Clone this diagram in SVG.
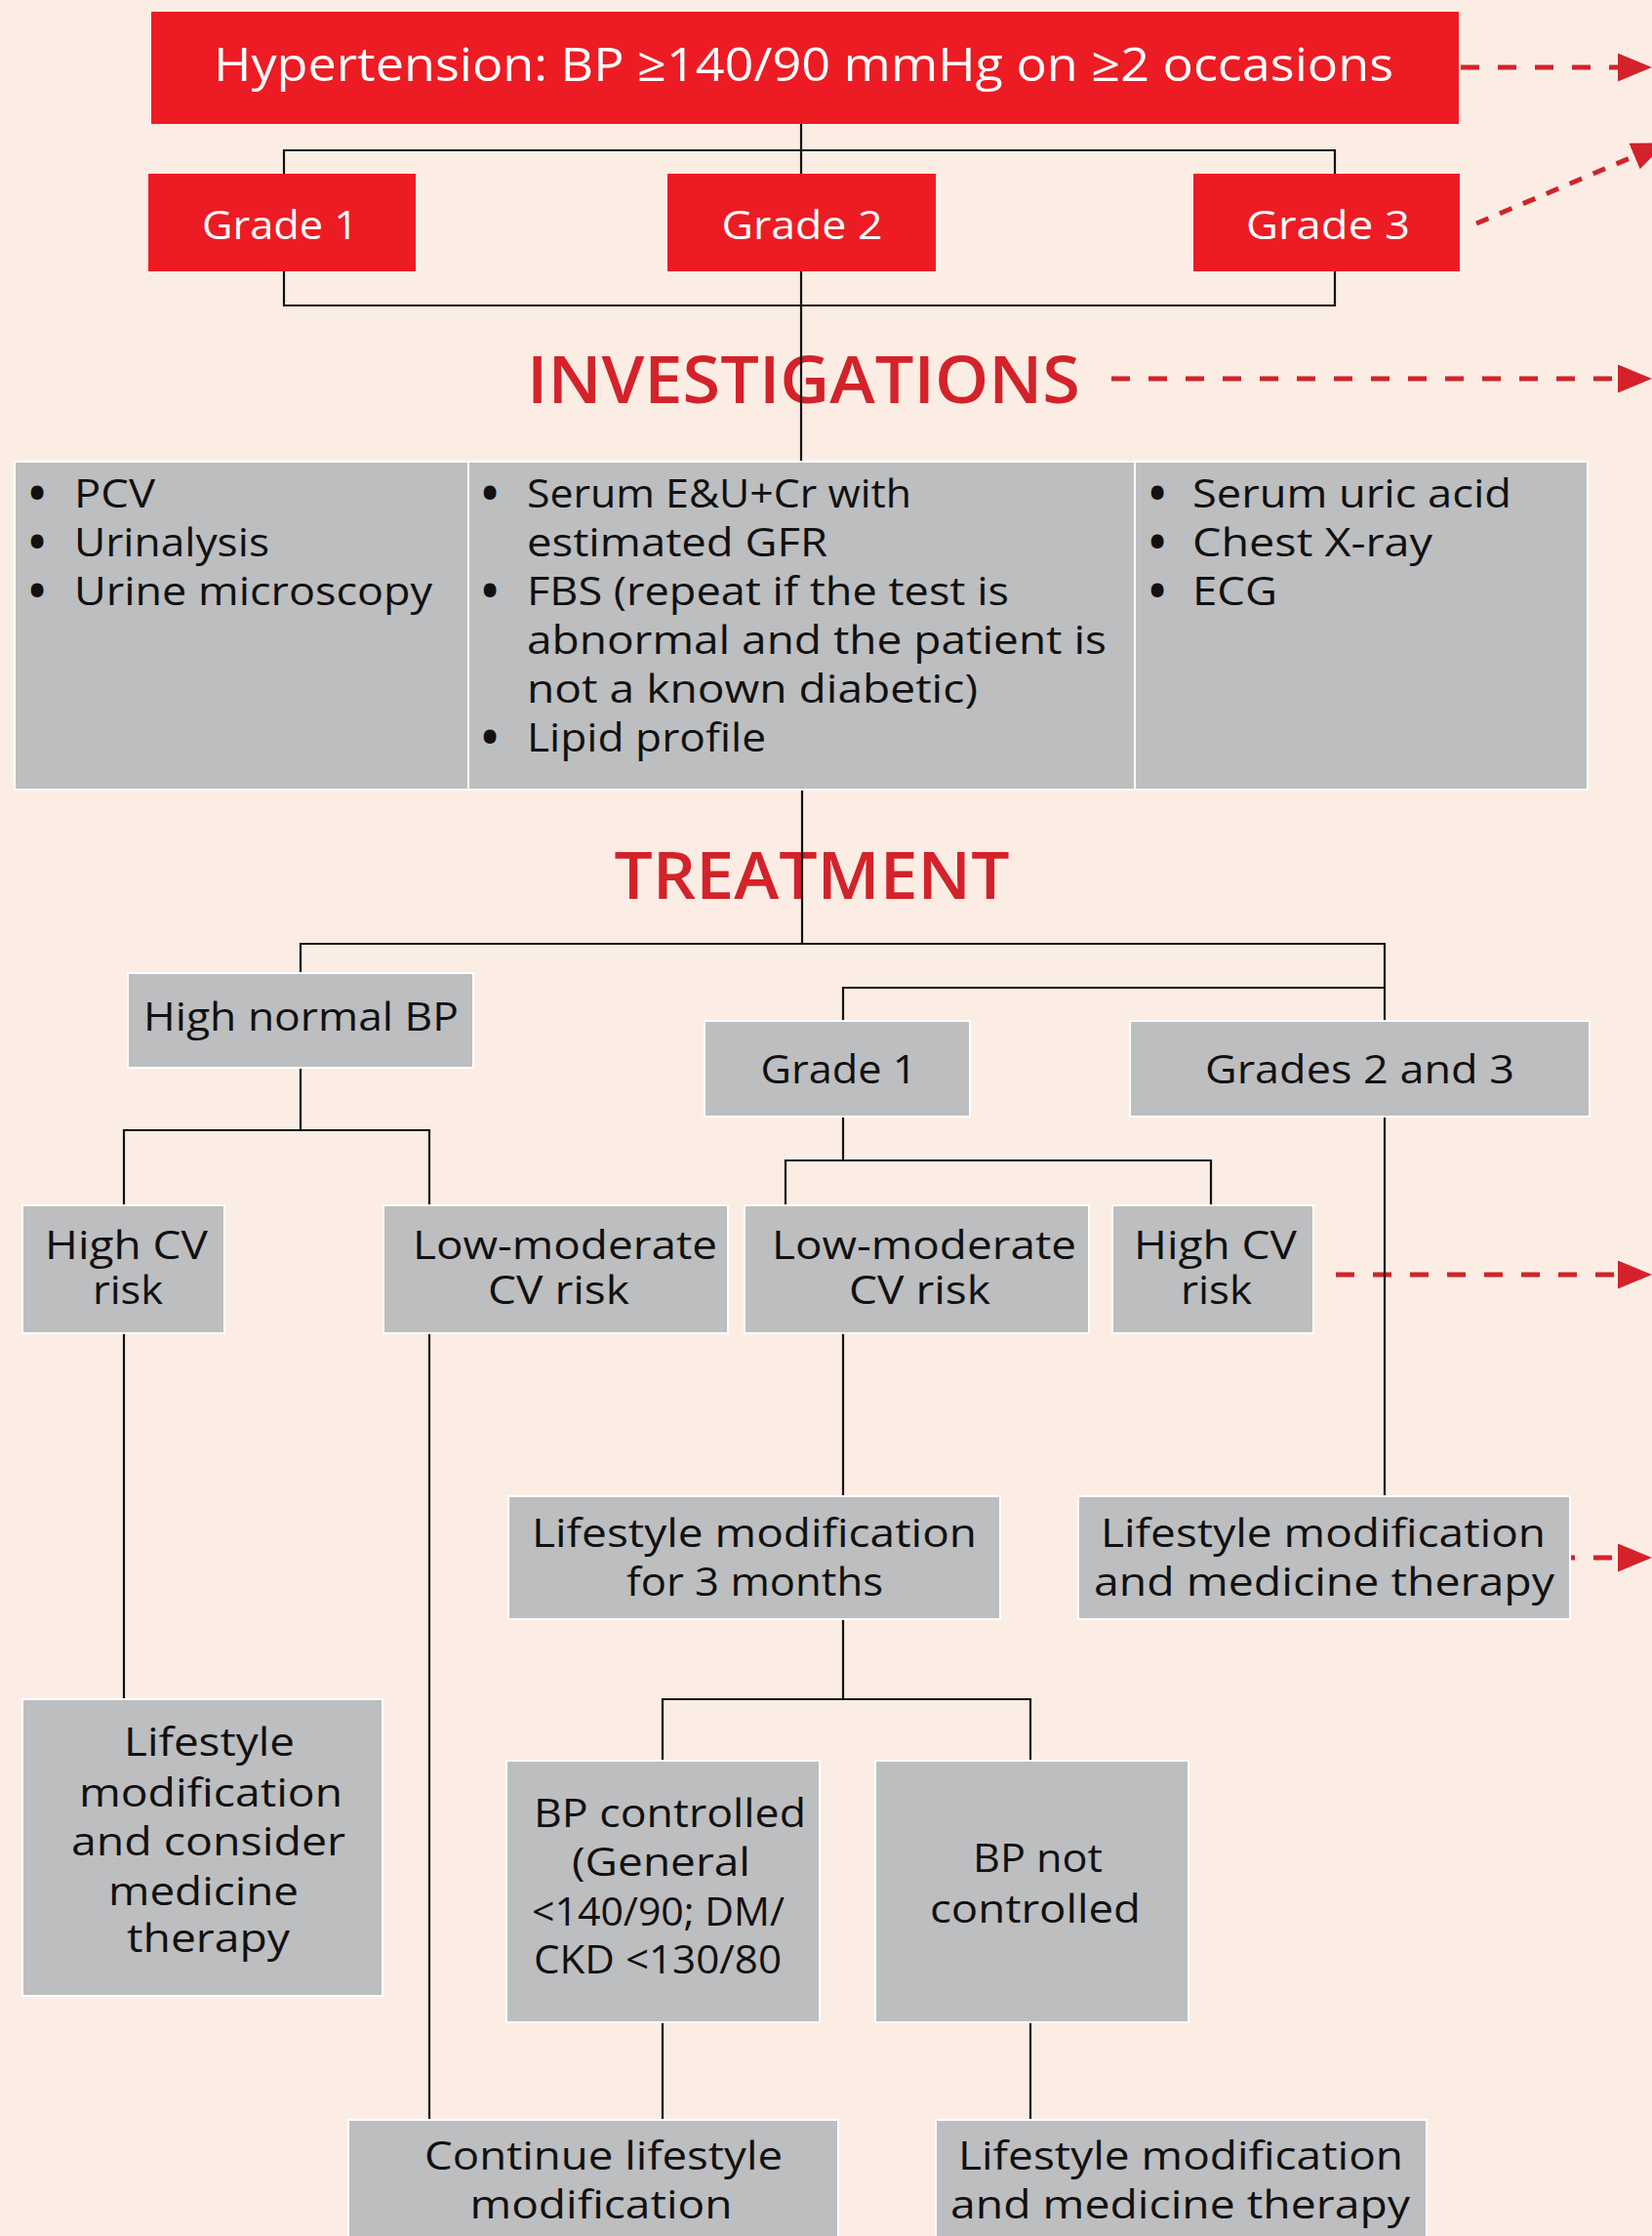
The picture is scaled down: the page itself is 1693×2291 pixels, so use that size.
<svg xmlns="http://www.w3.org/2000/svg" width="1693" height="2291" viewBox="0 0 1693 2291">
<style>
.t{font-family:"Open Sans","Liberation Sans",sans-serif;font-size:40px;fill:#111;text-anchor:middle}
.tl{text-anchor:start}
.b{font-family:"Open Sans","Liberation Sans",sans-serif;font-size:40px;font-weight:800;fill:#111;text-anchor:middle}
.w{fill:#fff;font-weight:500}
.h{font-family:"Open Sans","Liberation Sans",sans-serif;font-size:67px;font-weight:600;fill:#d3222a;text-anchor:middle}
.red{fill:#ed1c24}
.gray{fill:#bdbec0;stroke:#fff;stroke-width:2}
.conn{fill:none;stroke:#111;stroke-width:2.2}
.dash{fill:none;stroke:#d3222a;stroke-width:5;stroke-dasharray:19 19}
.dash2{fill:none;stroke:#d3222a;stroke-width:5;stroke-dasharray:13.5 12.5}
</style>
<defs>
<marker id="ah" markerUnits="userSpaceOnUse" markerWidth="36" markerHeight="30" refX="0" refY="14.5" orient="auto">
<path d="M0,0 L35,14.5 L0,29 Z" fill="#d3222a"/>
</marker>
</defs>
<rect x="0" y="0" width="1693" height="2291" fill="#fcede4"/>

<g id="headings">
<text class="h" x="823.5" y="413" textLength="567" lengthAdjust="spacingAndGlyphs">INVESTIGATIONS</text>
<text class="h" x="832" y="921" textLength="405" lengthAdjust="spacingAndGlyphs">TREATMENT</text>
</g>

<g id="arrows">
<line class="dash" x1="1497" y1="69" x2="1658" y2="69" marker-end="url(#ah)"/>
<line class="dash2" x1="1513" y1="229" x2="1675" y2="160" marker-end="url(#ah)"/>
<line class="dash" x1="1139" y1="388" x2="1658" y2="388" marker-end="url(#ah)"/>
<line class="dash" x1="1369" y1="1306" x2="1658" y2="1306" marker-end="url(#ah)"/>
<line class="dash" x1="1595" y1="1596" x2="1658" y2="1596" marker-end="url(#ah)"/>
</g>

<g id="connectors">
<path class="conn" d="M821,127 V473"/>
<path class="conn" d="M291,178 V154 H1368 V178"/>
<path class="conn" d="M291,278 V313 H1368 V278"/>
<path class="conn" d="M822,809 V967"/>
<path class="conn" d="M308,997 V967 H1419 V1046"/>
<path class="conn" d="M864,1046 V1012 H1419"/>
<path class="conn" d="M308,1094 V1158"/>
<path class="conn" d="M127,1235 V1158 H440 V1235"/>
<path class="conn" d="M864,1144 V1189"/>
<path class="conn" d="M805,1235 V1189 H1241 V1235"/>
<path class="conn" d="M1419,1144 V1533"/>
<path class="conn" d="M127,1366 V1741"/>
<path class="conn" d="M440,1366 V2172"/>
<path class="conn" d="M864,1366 V1533"/>
<path class="conn" d="M864,1659 V1741"/>
<path class="conn" d="M679,1804 V1741 H1056 V1804"/>
<path class="conn" d="M679,2072 V2172"/>
<path class="conn" d="M1056,2072 V2172"/>
</g>

<g id="hypertension">
<rect class="red" x="155" y="12" width="1340" height="115"/>
<text class="t w" x="823.5" y="83" style="font-size:48px" textLength="1209" lengthAdjust="spacingAndGlyphs">Hypertension: BP ≥140/90 mmHg on ≥2 occasions</text>
</g>
<g id="grade1-red">
<rect class="red" x="152" y="178" width="274" height="100"/>
<text class="t w" x="287" y="245" textLength="160" lengthAdjust="spacingAndGlyphs">Grade 1</text>
</g>
<g id="grade2-red">
<rect class="red" x="684" y="178" width="275" height="100"/>
<text class="t w" x="822" y="245" textLength="165" lengthAdjust="spacingAndGlyphs">Grade 2</text>
</g>
<g id="grade3-red">
<rect class="red" x="1223" y="178" width="273" height="100"/>
<text class="t w" x="1361" y="245" textLength="168" lengthAdjust="spacingAndGlyphs">Grade 3</text>
</g>

<g id="investigations-col1">
<rect class="gray" x="15" y="473" width="465" height="336"/>
<text class="b" x="38" y="520">•</text><text class="t tl" x="76" y="520" textLength="83" lengthAdjust="spacingAndGlyphs">PCV</text>
<text class="b" x="38" y="570">•</text><text class="t tl" x="76" y="570" textLength="200" lengthAdjust="spacingAndGlyphs">Urinalysis</text>
<text class="b" x="38" y="620">•</text><text class="t tl" x="76" y="620" textLength="367" lengthAdjust="spacingAndGlyphs">Urine microscopy</text>
</g>
<g id="investigations-col2">
<rect class="gray" x="480" y="473" width="683" height="336"/>
<text class="b" x="502" y="520">•</text><text class="t tl" x="540" y="520" textLength="394" lengthAdjust="spacingAndGlyphs">Serum E&amp;U+Cr with</text>
<text class="t tl" x="540" y="570" textLength="308" lengthAdjust="spacingAndGlyphs">estimated GFR</text>
<text class="b" x="502" y="620">•</text><text class="t tl" x="540" y="620" textLength="494" lengthAdjust="spacingAndGlyphs">FBS (repeat if the test is</text>
<text class="t tl" x="540" y="670" textLength="594" lengthAdjust="spacingAndGlyphs">abnormal and the patient is</text>
<text class="t tl" x="540" y="720" textLength="462" lengthAdjust="spacingAndGlyphs">not a known diabetic)</text>
<text class="b" x="502" y="770">•</text><text class="t tl" x="540" y="770" textLength="245" lengthAdjust="spacingAndGlyphs">Lipid profile</text>
</g>
<g id="investigations-col3">
<rect class="gray" x="1163" y="473" width="464" height="336"/>
<text class="b" x="1186" y="520">•</text><text class="t tl" x="1222" y="520" textLength="327" lengthAdjust="spacingAndGlyphs">Serum uric acid</text>
<text class="b" x="1186" y="570">•</text><text class="t tl" x="1222" y="570" textLength="246" lengthAdjust="spacingAndGlyphs">Chest X-ray</text>
<text class="b" x="1186" y="620">•</text><text class="t tl" x="1222" y="620" textLength="87" lengthAdjust="spacingAndGlyphs">ECG</text>
</g>

<g id="high-normal-bp">
<rect class="gray" x="131" y="997" width="354" height="97"/>
<text class="t" x="308.5" y="1056" textLength="323" lengthAdjust="spacingAndGlyphs">High normal BP</text>
</g>
<g id="grade1-gray">
<rect class="gray" x="722" y="1046" width="272" height="98"/>
<text class="t" x="859.5" y="1110" textLength="160" lengthAdjust="spacingAndGlyphs">Grade 1</text>
</g>
<g id="grades-2-3">
<rect class="gray" x="1158" y="1046" width="471" height="98"/>
<text class="t" x="1393.5" y="1110" textLength="317" lengthAdjust="spacingAndGlyphs">Grades 2 and 3</text>
</g>

<g id="high-cv-left">
<rect class="gray" x="23" y="1235" width="207" height="131"/>
<text class="t" x="129.5" y="1290" textLength="167" lengthAdjust="spacingAndGlyphs">High CV</text>
<text class="t" x="131" y="1336" textLength="72" lengthAdjust="spacingAndGlyphs">risk</text>
</g>
<g id="low-mod-left">
<rect class="gray" x="393" y="1235" width="353" height="131"/>
<text class="t" x="579" y="1290" textLength="312" lengthAdjust="spacingAndGlyphs">Low-moderate</text>
<text class="t" x="572.5" y="1336" textLength="145" lengthAdjust="spacingAndGlyphs">CV risk</text>
</g>
<g id="low-mod-mid">
<rect class="gray" x="763" y="1235" width="353" height="131"/>
<text class="t" x="947" y="1290" textLength="312" lengthAdjust="spacingAndGlyphs">Low-moderate</text>
<text class="t" x="942.5" y="1336" textLength="145" lengthAdjust="spacingAndGlyphs">CV risk</text>
</g>
<g id="high-cv-right">
<rect class="gray" x="1140" y="1235" width="206" height="131"/>
<text class="t" x="1245.5" y="1290" textLength="167" lengthAdjust="spacingAndGlyphs">High CV</text>
<text class="t" x="1246.5" y="1336" textLength="73" lengthAdjust="spacingAndGlyphs">risk</text>
</g>

<g id="lifestyle-3-months">
<rect class="gray" x="521" y="1533" width="504" height="126"/>
<text class="t" x="773" y="1585" textLength="456" lengthAdjust="spacingAndGlyphs">Lifestyle modification</text>
<text class="t" x="773.5" y="1635" textLength="263" lengthAdjust="spacingAndGlyphs">for 3 months</text>
</g>
<g id="lifestyle-medicine-right">
<rect class="gray" x="1105" y="1533" width="504" height="126"/>
<text class="t" x="1356" y="1585" textLength="456" lengthAdjust="spacingAndGlyphs">Lifestyle modification</text>
<text class="t" x="1357" y="1635" textLength="472" lengthAdjust="spacingAndGlyphs">and medicine therapy</text>
</g>

<g id="lifestyle-consider">
<rect class="gray" x="23" y="1741" width="369" height="304"/>
<text class="t" x="214.5" y="1799" textLength="175" lengthAdjust="spacingAndGlyphs">Lifestyle</text>
<text class="t" x="216" y="1851" textLength="270" lengthAdjust="spacingAndGlyphs">modification</text>
<text class="t" x="213.5" y="1901" textLength="281" lengthAdjust="spacingAndGlyphs">and consider</text>
<text class="t" x="208.5" y="1952" textLength="195" lengthAdjust="spacingAndGlyphs">medicine</text>
<text class="t" x="213.5" y="2000" textLength="167" lengthAdjust="spacingAndGlyphs">therapy</text>
</g>

<g id="bp-controlled">
<rect class="gray" x="519" y="1804" width="321" height="268"/>
<text class="t" x="686.5" y="1872" textLength="279" lengthAdjust="spacingAndGlyphs">BP controlled</text>
<text class="t" x="677.5" y="1922" textLength="183" lengthAdjust="spacingAndGlyphs">(General</text>
<text class="t" x="674.5" y="1973" textLength="259" lengthAdjust="spacingAndGlyphs">&lt;140/90; DM/</text>
<text class="t" x="674" y="2022" textLength="254" lengthAdjust="spacingAndGlyphs">CKD &lt;130/80</text>
</g>
<g id="bp-not-controlled">
<rect class="gray" x="897" y="1804" width="321" height="268"/>
<text class="t" x="1063.5" y="1918" textLength="133" lengthAdjust="spacingAndGlyphs">BP not</text>
<text class="t" x="1061" y="1970" textLength="216" lengthAdjust="spacingAndGlyphs">controlled</text>
</g>

<g id="continue-lifestyle">
<rect class="gray" x="357" y="2172" width="502" height="130"/>
<text class="t" x="618.5" y="2223" textLength="367" lengthAdjust="spacingAndGlyphs">Continue lifestyle</text>
<text class="t" x="616" y="2273" textLength="269" lengthAdjust="spacingAndGlyphs">modification</text>
</g>
<g id="lifestyle-medicine-bottom">
<rect class="gray" x="959" y="2172" width="503" height="130"/>
<text class="t" x="1210" y="2223" textLength="456" lengthAdjust="spacingAndGlyphs">Lifestyle modification</text>
<text class="t" x="1209.5" y="2273" textLength="471" lengthAdjust="spacingAndGlyphs">and medicine therapy</text>
</g>
</svg>
